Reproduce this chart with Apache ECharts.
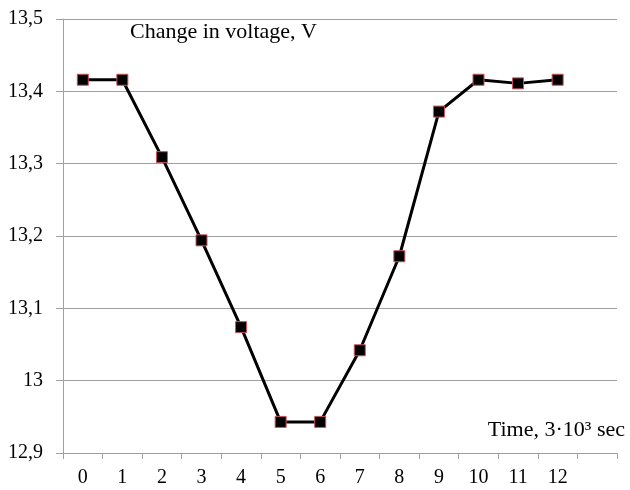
<!DOCTYPE html>
<html>
<head>
<meta charset="utf-8">
<script src="https://cdn.jsdelivr.net/npm/echarts@6/dist/echarts.min.js"></script>
<style>html,body{margin:0;padding:0;background:#fff;}#c{width:630px;height:490px;}</style>
</head>
<body>
<div id="c"></div>
<script>
const categories = ['0','1','2','3','4','5','6','7','8','9','10','11','12',''];
const voltage = [13.416, 13.416, 13.309, 13.194, 13.074, 12.943, 12.943, 13.042, 13.172, 13.372, 13.416, 13.411, 13.416];
const yTitle = 'Change in voltage, V';
const xTitle = 'Time, 3·10³ sec';

const chart = echarts.init(document.getElementById('c'), null, {renderer: 'canvas'});
const font = 'Liberation Serif';
chart.setOption({
  animation: false,
  backgroundColor: '#fff',
  grid: {left: 63, right: 13, top: 19, bottom: 37, containLabel: false},
  xAxis: {
    type: 'category',
    data: categories,
    boundaryGap: true,
    axisLine: {lineStyle: {color: '#a0a0a0', width: 1}},
    axisTick: {show: true, length: 6, lineStyle: {color: '#a0a0a0'}},
    axisLabel: {color: '#000', fontFamily: font, fontSize: 20, margin: 15, interval: 0}
  },
  yAxis: {
    type: 'value',
    min: 12.9, max: 13.5, interval: 0.1,
    axisLine: {show: true, lineStyle: {color: '#a0a0a0', width: 1}},
    axisTick: {show: true, length: 7, inside: false, lineStyle: {color: '#a0a0a0'}},
    splitLine: {lineStyle: {color: '#a0a0a0', width: 1}},
    axisLabel: {color: '#000', fontFamily: font, fontSize: 20, margin: 20,
      formatter: v => (Math.round(v*10)/10).toString().replace('.', ',')}
  },
  graphic: [
    {type: 'text', left: 130, top: 21, style: {text: yTitle, font: '22px "Liberation Serif"', fill: '#000'}},
    {type: 'text', right: 5, top: 419, style: {text: xTitle, font: '22px "Liberation Serif"', fill: '#000'}}
  ],
  series: [{
    type: 'line',
    data: voltage,
    symbol: 'rect',
    symbolSize: 11,
    lineStyle: {color: '#000', width: 3},
    itemStyle: {color: '#000', borderColor: '#c8555a', borderWidth: 1},
    z: 3
  }]
});
</script>
</body>
</html>
